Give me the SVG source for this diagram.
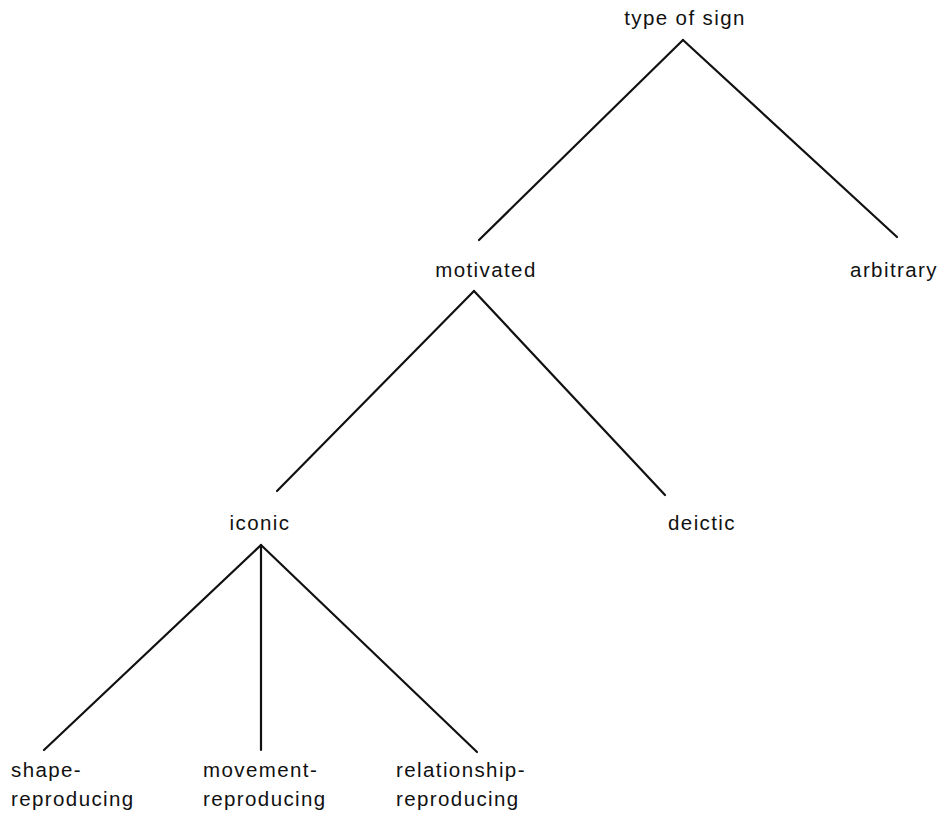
<svg xmlns="http://www.w3.org/2000/svg" width="944" height="814" viewBox="0 0 944 814">
<style>
text{font-family:"Liberation Sans",Arial,sans-serif;font-size:20.5px;fill:#111;letter-spacing:1.4px}
.c{text-anchor:middle}
.e line{stroke:#111;stroke-width:2.2;stroke-linecap:round}
</style>
<rect width="944" height="814" fill="#fff"/>
<g class="e" id="connectors">
<line x1="683" y1="40" x2="479" y2="240"/>
<line x1="683" y1="40" x2="897" y2="237"/>
<line x1="474" y1="291" x2="277" y2="491"/>
<line x1="474" y1="291" x2="665" y2="495"/>
<line x1="261" y1="545" x2="44" y2="750"/>
<line x1="261" y1="545" x2="261" y2="750"/>
<line x1="261" y1="545" x2="477" y2="752"/>
</g>
<g id="type-of-sign"><text class="c" x="685" y="25">type of sign</text></g>
<g id="motivated"><text class="c" x="486" y="277">motivated</text></g>
<g id="arbitrary"><text class="c" x="894" y="277">arbitrary</text></g>
<g id="iconic"><text class="c" x="260" y="530">iconic</text></g>
<g id="deictic"><text class="c" x="702" y="530">deictic</text></g>
<g id="shape"><text x="11" y="777">shape-</text><text x="11" y="806">reproducing</text></g>
<g id="movement"><text x="203" y="777">movement-</text><text x="203" y="806">reproducing</text></g>
<g id="relationship"><text x="396" y="777">relationship-</text><text x="396" y="806">reproducing</text></g>
</svg>
